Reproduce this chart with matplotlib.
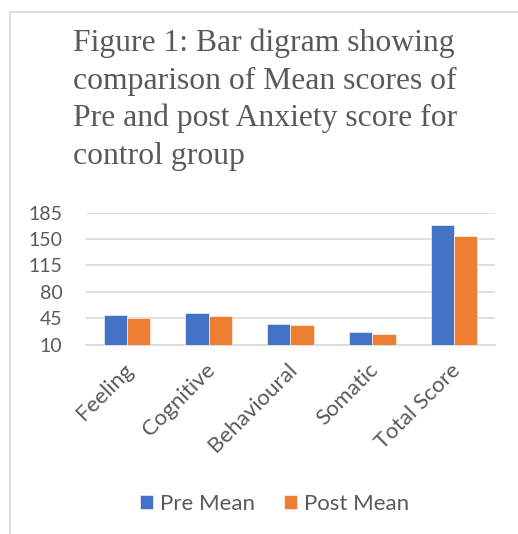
import matplotlib
matplotlib.use('agg')
import matplotlib.pyplot as plt
import matplotlib.patches as mpatches
from matplotlib.transforms import ScaledTranslation
import numpy as np

categories = ['Feeling', 'Cognitive', 'Behavioural', 'Somatic', 'Total Score']
pre_mean = [50, 52.5, 37.5, 27, 169]
post_mean = [45, 48, 35.5, 24, 154.5]
y_ticks = [10, 45, 80, 115, 150, 185]

title = ('Figure 1: Bar digram showing\n'
         'comparison of Mean scores of\n'
         'Pre and post Anxiety score for\n'
         'control group')

text_grey = '#595959'
grid_grey = '#d9d9d9'

fig = plt.figure(figsize=(5.18, 5.34), dpi=100)
ax = fig.add_axes([0.166, 0.3545, 0.7896, 0.2472])

x = np.arange(len(categories))
width = 0.285
ax.bar(x - width / 2, pre_mean, width, color='#4472C4', label='Pre Mean',
       edgecolor='white', linewidth=0.4, zorder=3)
ax.bar(x + width / 2, post_mean, width, color='#ED7D31', label='Post Mean',
       edgecolor='white', linewidth=0.4, zorder=3)

ax.set_xlim(-0.5, len(categories) - 0.5)
ax.set_ylim(y_ticks[0], y_ticks[-1])
ax.set_yticks(y_ticks)
ax.set_xticks(x)
ax.set_xticklabels(categories, rotation=45, ha='right', va='center',
                   rotation_mode='anchor')
ax.tick_params(axis='both', length=0, colors=text_grey)
ax.tick_params(axis='y', pad=17, labelsize=14)
ax.tick_params(axis='x', pad=16, labelsize=16)
shift = ScaledTranslation(3 / 100, 0, fig.dpi_scale_trans)
for lbl in ax.get_xticklabels():
    lbl.set_family('Lato')
    lbl.set_transform(lbl.get_transform() + shift)
for lbl in ax.get_yticklabels():
    lbl.set_family('Lato')

ax.grid(axis='y', color=grid_grey, linewidth=1.2, zorder=0)
for side in ['top', 'right', 'left']:
    ax.spines[side].set_visible(False)
ax.spines['bottom'].set_color(grid_grey)
ax.spines['bottom'].set_linewidth(1.2)

fig.text(73 / 518, 1 - 29 / 534, title, ha='left', va='top',
         family='Liberation Serif', fontsize=22.8, color=text_grey,
         linespacing=1.37)

leg = fig.legend(loc='center', bbox_to_anchor=(0.53, 0.056), ncol=2,
                 frameon=False, prop={'family': 'Lato', 'size': 16},
                 handlelength=0.6, handleheight=0.6, handletextpad=0.3,
                 columnspacing=1.3)
for t in leg.get_texts():
    t.set_color(text_grey)

# outer chart frame, cut off on the right and bottom
frame = mpatches.Rectangle((10 / 518, -0.1), 1.2, 1.1 - 12.5 / 534,
                           transform=fig.transFigure, fill=False,
                           edgecolor=grid_grey, linewidth=1.3, clip_on=False)
fig.patches.append(frame)

fig.savefig('out.png', dpi=100)
